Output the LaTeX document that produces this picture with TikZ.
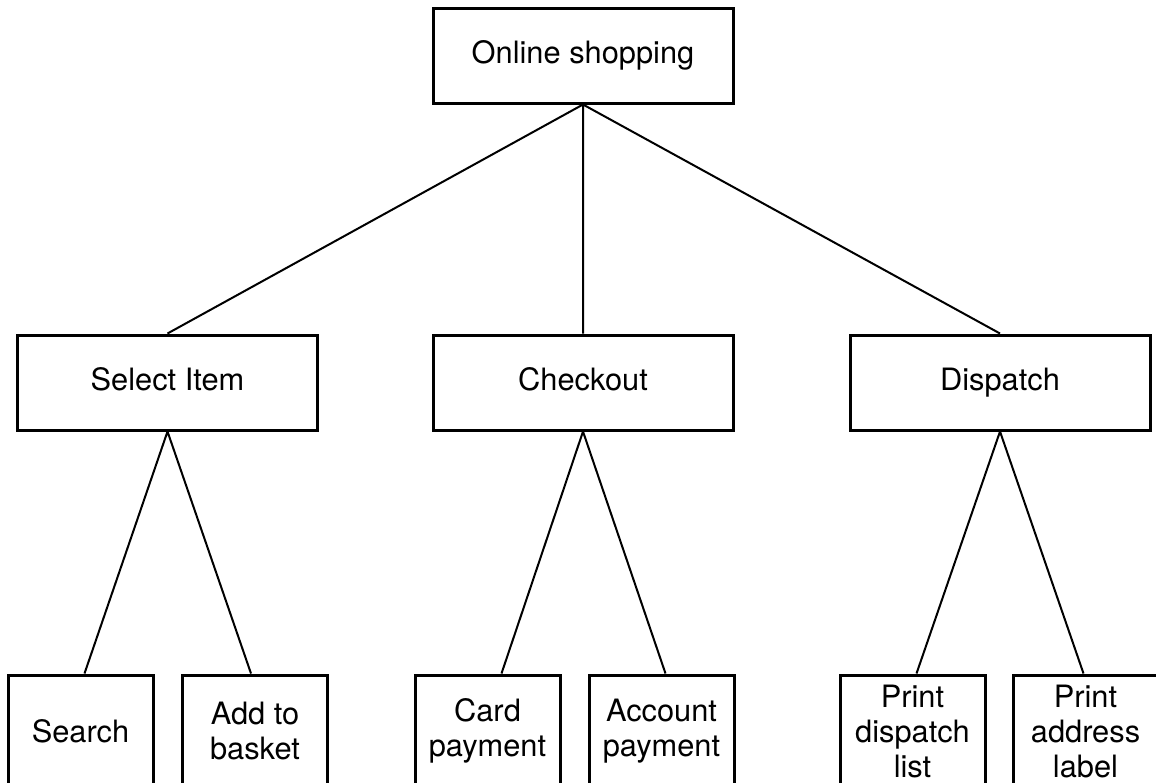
\documentclass[tikz,border=0pt]{standalone}
\usepackage{fontspec}
\setmainfont{TeX Gyre Heros}
\usepackage{tikz}
\usetikzlibrary{positioning}
\tikzset{
	task/.style={
			draw,
			line width=1.5pt,
			minimum width=150pt,
			minimum height=47.5pt,
			text height=0.98em,
			text depth=0.22em,
			font=\fontsize{15.4}{17.5}\selectfont
		},
	subtask/.style={
			draw,
			line width=1.5pt,
			minimum width=72.5pt,
			minimum height=56pt,
			align=center,
			font=\fontsize{15.4}{17.5}\selectfont
		},
	link/.style={line width=1pt}
}

\begin{document}
\begin{tikzpicture}[x=0.5pt,y=-0.5pt]
		\useasboundingbox (0,0) rectangle (1156,782);

		% Top level
		\node[task] (shop) at (583,55.5) {Online shopping};

		% Second level
		\node[task] (select) at (167.5,382.5) {Select Item};
		\node[task] (checkout) at (583,382.5) {Checkout};
		\node[task] (dispatch) at (1000,382.5) {Dispatch};

		% Third level
		\node[subtask] (search) at (80.5,731) {Search};
		\node[subtask] (basket) at (255,731) {Add to\\basket};
		\node[subtask] (card) at (487.5,731) {Card\\payment};
		\node[subtask] (account) at (661.5,731) {Account\\payment};
		\node[subtask] (list) at (912.5,731) {Print\\dispatch\\list};
		\node[subtask] (label) at (1085.5,731) {Print\\address\\label};

		% Links
		\draw[link] (shop.south) -- (select.north)
		(shop.south) -- (checkout.north)
		(shop.south) -- (dispatch.north);

		\draw[link] (select.south) -- ([xshift=2pt]search.north)
		(select.south) -- ([xshift=-2pt]basket.north);

		\draw[link] (checkout.south) -- ([xshift=7pt]card.north)
		(checkout.south) -- ([xshift=2pt]account.north);

		\draw[link] (dispatch.south) -- ([xshift=2pt]list.north)
		(dispatch.south) -- ([xshift=-1pt]label.north);
	\end{tikzpicture}
\end{document}
